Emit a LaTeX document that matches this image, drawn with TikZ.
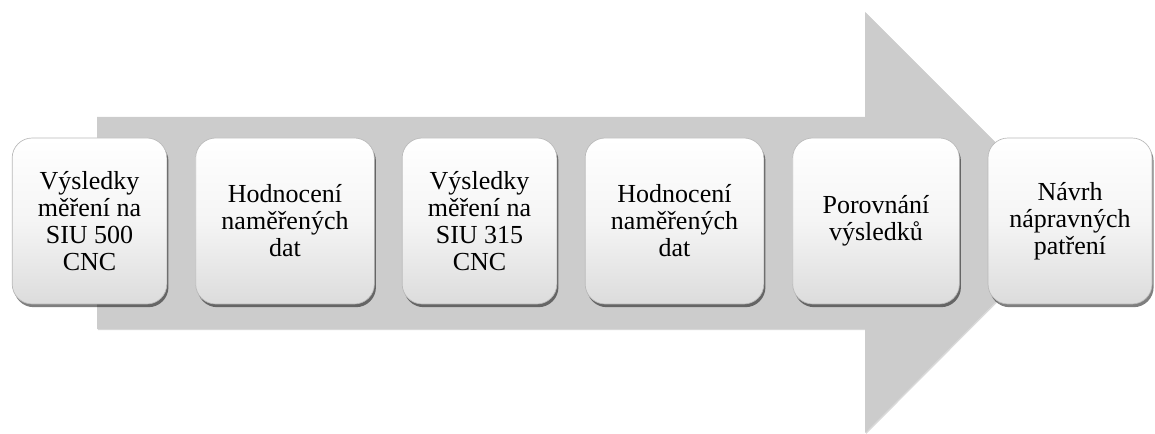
\documentclass[tikz,border=0pt]{standalone}
\usepackage{fontspec}
\setmainfont{Liberation Serif}
\newfontfamily\boxfont{Liberation Serif}
\usetikzlibrary{shadows}

\definecolor{arrowgray}{RGB}{204,204,204}
\definecolor{boxedge}{RGB}{185,185,185}
\definecolor{boxlow}{RGB}{220,220,220}

\tikzset{every picture/.style={line width=0.75pt}}
\tikzset{
  stepbox/.style={rounded corners=15pt, draw=boxedge, line width=0.5pt,
    top color=white, bottom color=boxlow, middle color=white!96!black,
    minimum height=124.5pt, inner sep=2pt, align=center,
    font=\boxfont\fontsize{19.5}{20.2}\selectfont,
    drop shadow={shadow xshift=1.2pt, shadow yshift=-2.4pt, fill=black, opacity=0.5}},
  bigarrow/.style={fill=arrowgray, draw=none,
    drop shadow={shadow xshift=0.8pt, shadow yshift=-0.8pt, fill=black, opacity=0.15}}
}

\begin{document}
\begin{tikzpicture}[x=0.75pt,y=0.75pt,yscale=-1,xscale=1]
\useasboundingbox (0,0) rectangle (1155,434);

%Shape: Right Arrow [id:bigarrow]
\path [bigarrow] (97,117) -- (865,117) -- (865,12) -- (1075,222) -- (865,433) -- (865,329) -- (97,329) -- cycle ;

% Step boxes
\node [stepbox, minimum width=116pt] (vysl500) at (89.5,221) {Výsledky\\měření na\\SIU 500\\CNC};
\node [stepbox, minimum width=134pt] (hodn1) at (285,221) {Hodnocení\\naměřených\\dat};
\node [stepbox, minimum width=116pt] (vysl315) at (479.5,221) {Výsledky\\měření na\\SIU 315\\CNC};
\node [stepbox, minimum width=134pt] (hodn2) at (674.5,221) {Hodnocení\\naměřených\\dat};
\node [stepbox, minimum width=125pt] (porov) at (876,221) {Porovnání\\výsledků};
\node [stepbox, minimum width=123pt] (navrh) at (1070,221) {Návrh\\nápravných\\patření};

\end{tikzpicture}
\end{document}
